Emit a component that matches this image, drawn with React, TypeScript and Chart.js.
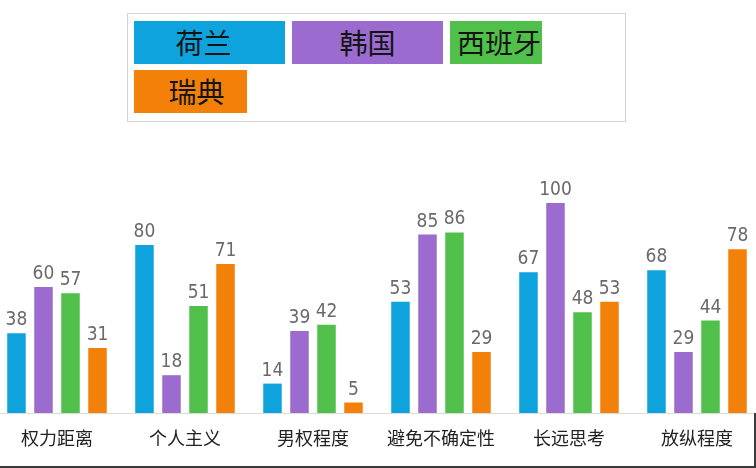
import React, { useEffect, useRef } from "react";
import { Chart, registerables } from "chart.js";

Chart.register(...registerables);

const categories = ["权力距离", "个人主义", "男权程度", "避免不确定性", "长远思考", "放纵程度"];
const seriesNames = ["荷兰", "韩国", "西班牙", "瑞典"];
const netherlands = [38, 80, 14, 53, 67, 68];
const korea = [60, 18, 39, 85, 100, 29];
const spain = [57, 51, 42, 86, 48, 44];
const sweden = [31, 71, 5, 29, 53, 78];
const seriesColors = ["#0fa3de", "#9b6bd0", "#50c04a", "#f28009"];

const seriesValues = [netherlands, korea, spain, sweden];

// legend layout (page pixels)
const legendItemBoxes = [
  { left: 134, top: 21, width: 151, height: 43, align: "center", shift: -6 },
  { left: 292, top: 21, width: 151, height: 43, align: "center", shift: 0 },
  { left: 450, top: 21, width: 92, height: 43, align: "left", shift: 7 },
  { left: 134, top: 70, width: 113, height: 43, align: "center", shift: 6 },
];

const valueLabelPlugin = {
  id: "valueLabels",
  afterDatasetsDraw(chart: any) {
    const ctx = chart.ctx;
    ctx.save();
    ctx.font = '19px "DejaVu Sans Condensed", "Liberation Sans Narrow", sans-serif';
    ctx.fillStyle = "#6a6a6a";
    ctx.textAlign = "center";
    ctx.textBaseline = "alphabetic";
    chart.data.datasets.forEach((ds: any, di: number) => {
      const meta = chart.getDatasetMeta(di);
      meta.data.forEach((el: any, i: number) => {
        ctx.fillText(String(ds.data[i]), el.x, el.y - 8);
      });
    });
    ctx.restore();
  },
};

function BarChart() {
  const ref = useRef<HTMLCanvasElement | null>(null);
  useEffect(() => {
    if (!ref.current) return;
    const chart = new Chart(ref.current, {
      type: "bar",
      data: {
        labels: categories,
        datasets: seriesNames.map((name, i) => ({
          label: name,
          data: seriesValues[i],
          backgroundColor: seriesColors[i],
          borderWidth: 0,
          categoryPercentage: 0.844,
          barPercentage: 0.685,
        })),
      },
      options: {
        animation: false,
        responsive: true,
        maintainAspectRatio: false,
        layout: { padding: 0 },
        plugins: {
          legend: { display: false },
          tooltip: { enabled: false },
          title: { display: false },
        },
        scales: {
          x: {
            offset: true,
            grid: { display: false },
            border: { display: true, color: "#dcdcdc", width: 1 },
            ticks: {
              color: "#222222",
              padding: 6,
              maxRotation: 0,
              autoSkip: false,
              font: { family: '"Noto Sans CJK SC", sans-serif', size: 18 },
            },
            afterFit: (scale: any) => {
              scale.height = 55;
            },
          },
          y: {
            display: false,
            min: 0,
            max: 130,
          },
        },
      },
      plugins: [valueLabelPlugin],
    });
    return () => chart.destroy();
  }, []);
  return <canvas ref={ref} />;
}

export default function App() {
  return (
    <div
      style={{
        position: "fixed",
        left: 0,
        top: 0,
        width: 756,
        height: 468,
        overflow: "hidden",
        background: "#ffffff",
      }}
    >
      <div
        style={{
          position: "absolute",
          left: 127,
          top: 13,
          width: 499,
          height: 109,
          border: "1px solid #d4d4d4",
          boxSizing: "border-box",
        }}
      />
      {seriesNames.map((name, i) => {
        const b = legendItemBoxes[i];
        return (
          <div
            key={name}
            style={{
              position: "absolute",
              left: b.left,
              top: b.top,
              width: b.width,
              height: b.height,
              background: seriesColors[i],
            }}
          >
            <div
              style={{
                position: "absolute",
                top: 0,
                height: b.height,
                lineHeight: b.height + "px",
                left: b.align === "left" ? b.shift : 0,
                width: b.align === "left" ? "auto" : b.width,
                marginLeft: b.align === "left" ? 0 : b.shift,
                textAlign: b.align === "left" ? "left" : "center",
                whiteSpace: "nowrap",
                fontFamily: '"Noto Sans CJK SC", sans-serif',
                fontSize: 28,
                color: "#141414",
              }}
            >
              {name}
            </div>
          </div>
        );
      })}
      <div
        style={{
          position: "absolute",
          left: -7,
          top: 140,
          width: 768,
          height: 328,
        }}
      >
        <BarChart />
      </div>
      <div style={{ position: "absolute", left: 0, top: 466, width: 756, height: 2, background: "#3a3a3a" }} />
      <div style={{ position: "absolute", left: 754, top: 413, width: 2, height: 55, background: "#3a3a3a" }} />
    </div>
  );
}
